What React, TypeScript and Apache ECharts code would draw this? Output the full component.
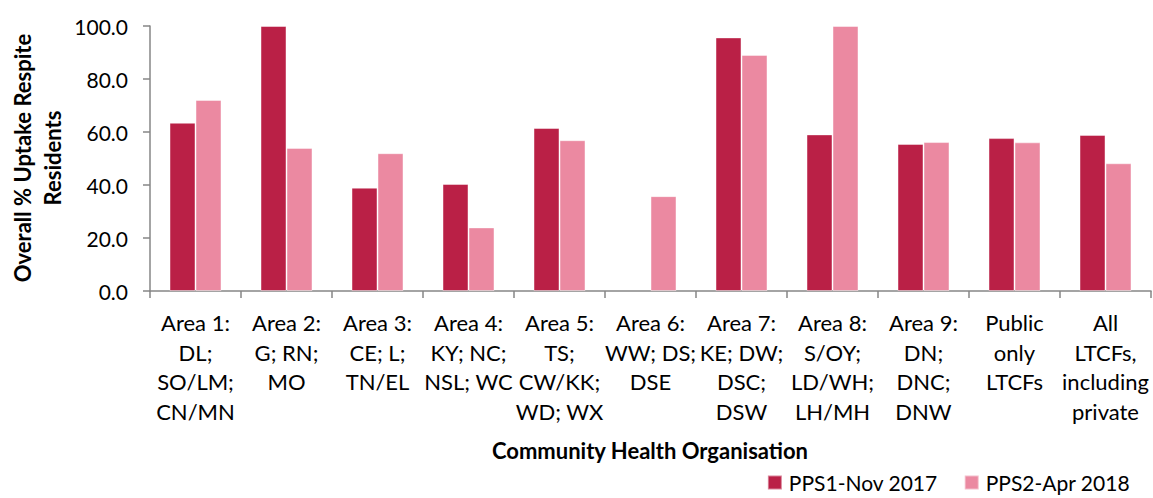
import React, { useEffect, useRef } from "react";
import * as echarts from "echarts";

const categories = [
  "Area 1:\nDL;\nSO/LM;\nCN/MN",
  "Area 2:\nG; RN;\nMO",
  "Area 3:\nCE; L;\nTN/EL",
  "Area 4:\nKY; NC;\nNSL; WC",
  "Area 5:\nTS;\nCW/KK;\nWD; WX",
  "Area 6:\nWW; DS;\nDSE",
  "Area 7:\nKE; DW;\nDSC;\nDSW",
  "Area 8:\nS/OY;\nLD/WH;\nLH/MH",
  "Area 9:\nDN;\nDNC;\nDNW",
  "Public\nonly\nLTCFs",
  "All\nLTCFs,\nincluding\nprivate",
];

const pps1Values: (number | null)[] = [63.5, 100.0, 39.0, 40.4, 61.5, null, 95.7, 59.1, 55.5, 57.7, 58.9];
const pps2Values: number[] = [72.1, 54.0, 52.0, 24.0, 56.9, 35.8, 89.1, 100.0, 56.2, 56.1, 48.2];

const seriesNames = ["PPS1-Nov 2017", "PPS2-Apr 2018"];
const yAxisTitle = "Overall % Uptake Respite\nResidents";
const xAxisTitle = "Community Health Organisation";

const FONT = "Lato, 'Open Sans', sans-serif";

export default function App() {
  const ref = useRef<HTMLDivElement>(null);
  useEffect(() => {
    document.body.style.margin = "0";
    if (!ref.current) return;
    const chart = echarts.init(ref.current, undefined, { renderer: "svg" });
    chart.setOption({
      animation: false,
      textStyle: { fontFamily: FONT },
      grid: { left: 150, right: 2, top: 26, bottom: 207 },
      legend: {
        right: 18,
        bottom: 0,
        itemWidth: 14,
        itemHeight: 14,
        itemGap: 26,
        icon: "rect",
        textStyle: { fontSize: 21, color: "#000", fontFamily: FONT, padding: [0, 0, 0, 2] },
        data: seriesNames,
      },
      xAxis: {
        type: "category",
        data: categories,
        axisLine: { lineStyle: { color: "#868686", width: 1.5 } },
        axisTick: { show: true, length: 7, alignWithLabel: false, lineStyle: { color: "#868686", width: 1.5 } },
        axisLabel: {
          interval: 0,
          color: "#000",
          fontSize: 22,
          lineHeight: 29.5,
          margin: 17,
          fontFamily: FONT,
        },
      },
      yAxis: {
        type: "value",
        min: 0,
        max: 100,
        interval: 20,
        splitLine: { show: false },
        axisLine: { show: true, lineStyle: { color: "#868686", width: 1.5 } },
        axisTick: { show: true, length: 7, lineStyle: { color: "#868686", width: 1.5 } },
        axisLabel: {
          color: "#000",
          fontSize: 21,
          margin: 22,
          fontFamily: FONT,
          formatter: (v: number) => v.toFixed(1),
        },
      },
      graphic: [
        {
          type: "text",
          x: 37,
          y: 158,
          rotation: Math.PI / 2,
          style: {
            text: yAxisTitle,
            font: `bold 22px ${FONT}`,
            fill: "#000",
            textAlign: "center",
            textVerticalAlign: "middle",
            lineHeight: 30,
          },
        },
        {
          type: "text",
          x: 650,
          y: 450,
          style: {
            text: xAxisTitle,
            font: `bold 22px ${FONT}`,
            fill: "#000",
            textAlign: "center",
            textVerticalAlign: "middle",
          },
        },
      ],
      series: [
        {
          name: seriesNames[0],
          type: "bar",
          data: pps1Values,
          barWidth: 26,
          barGap: "0%",
          itemStyle: { color: "#BA2046", borderColor: "rgba(255,255,255,0.45)", borderWidth: 1 },
        },
        {
          name: seriesNames[1],
          type: "bar",
          data: pps2Values,
          barWidth: 26,
          barGap: "0%",
          itemStyle: { color: "#EB89A1", borderColor: "rgba(255,255,255,0.45)", borderWidth: 1 },
        },
      ],
    });
    return () => chart.dispose();
  }, []);
  return <div ref={ref} style={{ width: 1153, height: 498 }} />;
}
